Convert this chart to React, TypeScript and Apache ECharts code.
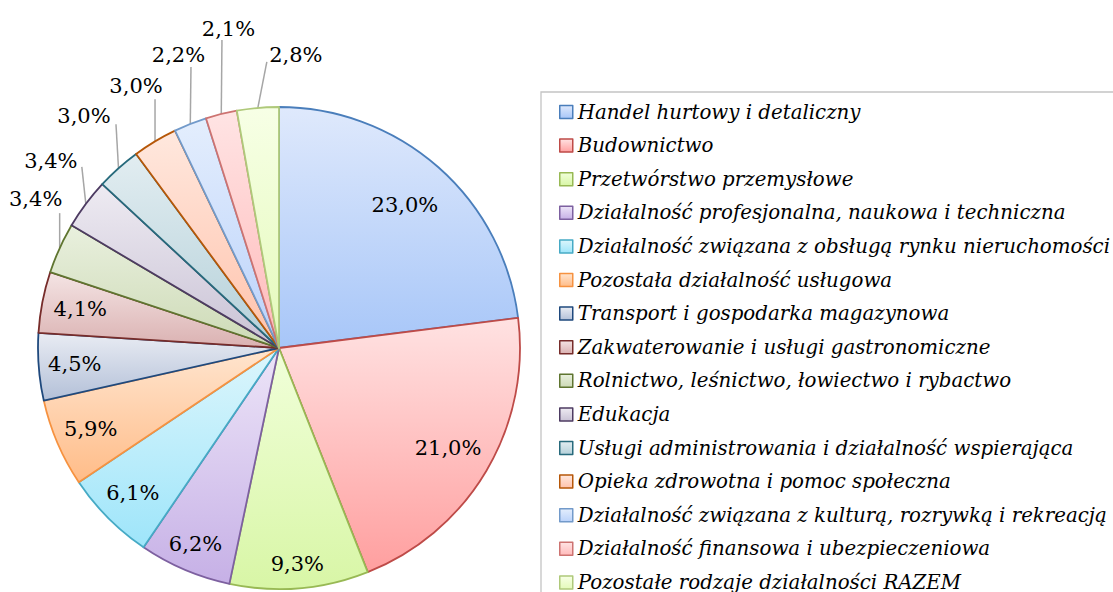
import React, { useEffect, useRef } from "react";
import * as echarts from "echarts";

const categories = [
  "Handel hurtowy i detaliczny",
  "Budownictwo",
  "Przetwórstwo przemysłowe",
  "Działalność profesjonalna, naukowa i techniczna",
  "Działalność związana z obsługą rynku nieruchomości",
  "Pozostała działalność usługowa",
  "Transport i gospodarka magazynowa",
  "Zakwaterowanie i usługi gastronomiczne",
  "Rolnictwo, leśnictwo, łowiectwo i rybactwo",
  "Edukacja",
  "Usługi administrowania i działalność wspierająca",
  "Opieka zdrowotna i pomoc społeczna",
  "Działalność związana z kulturą, rozrywką i rekreacją",
  "Działalność finansowa i ubezpieczeniowa",
  "Pozostałe rodzaje działalności RAZEM",
];

const shares = [23.0, 21.0, 9.3, 6.2, 6.1, 5.9, 4.5, 4.1, 3.4, 3.4, 3.0, 3.0, 2.2, 2.1, 2.8];

const borderColors = [
  "#4a7ebb", "#be4b48", "#98b954", "#7d60a0", "#46aac5",
  "#f69240", "#1f497d", "#772c2a", "#5f7530", "#4d3b62",
  "#276a7c", "#b65708", "#729aca", "#cd7371", "#afc97a",
];
const fillTop = [
  "#dfe9fc", "#ffe2e2", "#f1ffda", "#ede5f8", "#ddf6fc",
  "#ffe5cf", "#e9ecf3", "#f4e4e4", "#e9f0de", "#eeebf2",
  "#e2edf1", "#ffe8de", "#e4eefd", "#ffe4e4", "#f7ffe6",
];
const fillBottom = [
  "#a7c6f8", "#ff9f9f", "#d8f6a6", "#c6b0e6", "#9ee5fa",
  "#ffbc88", "#b3c0d8", "#dab1b1", "#cddab6", "#c9c2d5",
  "#b4d0d9", "#ffc2ab", "#bad2fa", "#ffbaba", "#e4faba",
];

// styling: inside label radius ratio (null => outside label)
const insideRatio: (number | null)[] = [0.79, 0.815, 0.9, 0.885, 0.855, 0.85, 0.85, 0.84, null, null, null, null, null, null, null];
// styling: outside label leader [lineEndDx, lineLen, labelDx, labelDy]
const outsideLeader: Record<number, number[]> = {
  8: [0, 35, -24, -14],
  9: [-4, 37, -31, -6],
  10: [-2.5, 44, -32, -8.5],
  11: [0, 42, -19, -13],
  12: [0.7, 57, -12.5, -12],
  13: [0.7, 74, 6.5, -11],
  14: [9, 46, 29, -7],
};

const CX = 279;
const CY = 348;
const R = 241;

export default function App() {
  const ref = useRef<HTMLDivElement>(null);
  useEffect(() => {
    document.body.style.margin = "0";
    if (!ref.current) return;
    const chart = echarts.init(ref.current, null, { renderer: "svg" });
    const total = shares.reduce((a, b) => a + b, 0);
    const midAngle = (i: number) => {
      let cum = 0;
      for (let j = 0; j < i; j++) cum += shares[j];
      return ((cum + shares[i] / 2) / total) * Math.PI * 2;
    };
    const data = categories.map((name, i) => ({
      name,
      value: shares[i],
      itemStyle: {
        color: new echarts.graphic.LinearGradient(0, 0, 0, 1, [
          { offset: 0, color: fillTop[i] },
          { offset: 1, color: fillBottom[i] },
        ]),
        borderColor: borderColors[i],
      },
      label: { position: insideRatio[i] == null ? "outside" : "inside" },
      labelLine: { show: insideRatio[i] == null },
    }));
    chart.setOption({
      animation: false,
      legend: {
        type: "plain",
        orient: "vertical",
        left: 559,
        top: 102,
        height: 1000,
        padding: 0,
        itemWidth: 13,
        itemHeight: 13,
        itemGap: 13.6,
        icon: "rect",
        selectedMode: false,
        itemStyle: { borderWidth: 1.5 },
        textStyle: {
          fontFamily: "DejaVu Serif",
          fontStyle: "italic",
          fontSize: 19.8,
          lineHeight: 20,
          color: "#000",
        },
        data: categories,
      },
      graphic: [
        {
          type: "rect",
          shape: { x: 541, y: 92, width: 800, height: 800 },
          style: { fill: "none", stroke: "#c4c4c4", lineWidth: 1.3 },
          silent: true,
        },
      ],
      series: [
        {
          type: "pie",
          center: [CX, CY],
          radius: R,
          startAngle: 90,
          clockwise: true,
          avoidLabelOverlap: false,
          itemStyle: { borderWidth: 1.8 },
          label: {
            color: "#000",
            fontFamily: "DejaVu Serif",
            fontSize: 21,
            formatter: (p: any) => p.value.toFixed(1).replace(".", ",") + "%",
          },
          labelLine: {
            lineStyle: { color: "#a6a6a6", width: 1.5 },
          },
          labelLayout: (p: any) => {
            const i = p.dataIndex;
            const a = midAngle(i);
            const s = Math.sin(a);
            const c = Math.cos(a);
            const ratio = insideRatio[i];
            if (ratio != null) {
              return {
                x: CX + R * ratio * s,
                y: CY - R * ratio * c,
                align: "center",
                verticalAlign: "middle",
              };
            }
            const o = outsideLeader[i];
            const ex = CX + R * s;
            const ey = CY - R * c;
            const lx = ex + o[0];
            const ly = ey - o[1];
            return {
              x: lx + o[2],
              y: ly + o[3],
              align: "center",
              verticalAlign: "middle",
              labelLinePoints: [
                [ex, ey],
                [lx, ly],
                [lx, ly],
              ],
            };
          },
          data,
        },
      ],
    });
    return () => chart.dispose();
  }, []);
  return <div ref={ref} style={{ width: 1113, height: 592 }} />;
}
